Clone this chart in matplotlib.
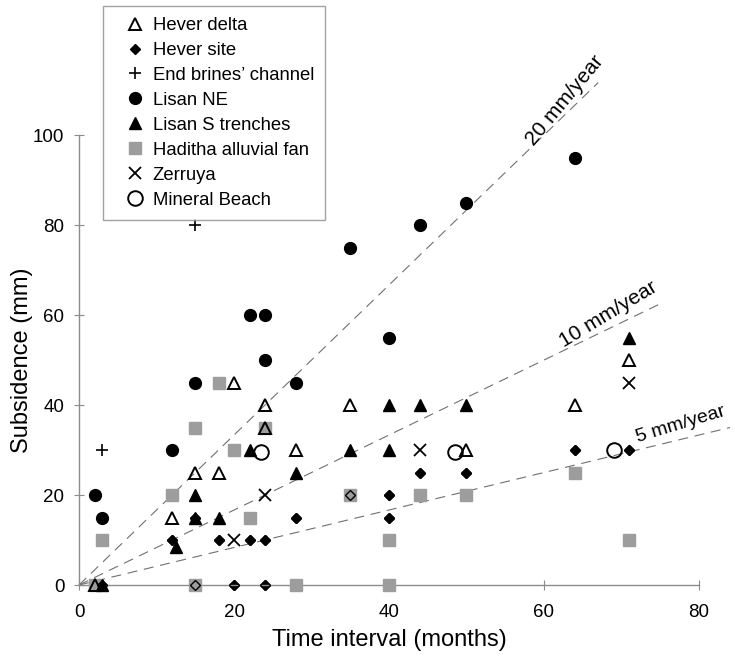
import matplotlib
matplotlib.use('Agg')
import matplotlib.pyplot as plt
import numpy as np

# Values (months, mm)
hever_delta_x = [2, 12, 15, 18, 20, 24, 24, 28, 35, 50, 64, 71]
hever_delta_y = [0, 15, 25, 25, 45, 40, 35, 30, 40, 30, 40, 50]

hever_site_x = [3, 15, 20, 24, 12, 18, 22, 24, 15, 28, 35, 40, 40, 44, 50, 64, 71]
hever_site_y = [0, 0, 0, 0, 10, 10, 10, 10, 15, 15, 20, 20, 15, 25, 25, 30, 30]

brines_x = [3, 15]
brines_y = [30, 80]

lisan_ne_x = [2, 3, 12, 15, 22, 24, 24, 28, 35, 40, 44, 50, 64]
lisan_ne_y = [20, 15, 30, 45, 60, 60, 50, 45, 75, 55, 80, 85, 95]

lisan_s_x = [3, 12.5, 15, 15, 18, 22, 28, 35, 40, 40, 44, 50, 71]
lisan_s_y = [0, 8.5, 15, 20, 15, 30, 25, 30, 30, 40, 40, 40, 55]

haditha_x = [2, 3, 12, 15, 15, 18, 20, 22, 24, 28, 35, 40, 40, 44, 50, 64, 71]
haditha_y = [0, 10, 20, 35, 0, 45, 30, 15, 35, 0, 20, 10, 0, 20, 20, 25, 10]

zerruya_x = [20, 24, 44, 71]
zerruya_y = [10, 20, 30, 45]

mineral_x = [23.5, 48.5, 69]
mineral_y = [29.5, 29.5, 30]

# Reference subsidence rates (mm/year) and how far each line is drawn (months)
rates = [20, 10, 5]
rate_ends = [67, 75, 84]
rate_labels = ['20 mm/year', '10 mm/year', '5 mm/year']
rate_label_pos = [(62.7, 107.8), (68.3, 60.2), (77.6, 35.6)]
rate_label_size = [15, 15, 14]

plt.rcParams['font.family'] = ['Liberation Sans', 'DejaVu Sans']

fig = plt.figure(figsize=(7.35, 6.6), dpi=100)
ax = fig.add_axes([0.1075, 0.1136, 0.8435, 0.6818])

grey = '#8c8c8c'

# Dashed rate lines from the origin
for rate, end in zip(rates, rate_ends):
    t = np.array([0, end])
    ax.plot(t, t * rate / 12.0, color='#707070', lw=0.8,
            linestyle=(0, (9, 6)), clip_on=False, zorder=1)

for label, (lx, ly), rate, fs in zip(rate_labels, rate_label_pos, rates,
                                     rate_label_size):
    # angle of the line on screen
    p0 = ax.transData.transform((0, 0))
    p1 = ax.transData.transform((60, 60 * rate / 12.0))
    ang = np.degrees(np.arctan2(p1[1] - p0[1], p1[0] - p0[0]))
    ax.text(lx, ly, label, rotation=ang, rotation_mode='anchor',
            ha='center', va='center', fontsize=fs, clip_on=False)

h_site, = ax.plot(hever_site_x, hever_site_y, 'D', color='black', ms=5,
                  ls='none', zorder=2, clip_on=False)
h_had, = ax.plot(haditha_x, haditha_y, 's', color='#9d9d9d', ms=8,
                 ls='none', zorder=3, clip_on=False)
# diamond outlines on top, so diamonds stay visible over grey squares
ax.plot(hever_site_x, hever_site_y, 'D', mfc='none', mec='black', ms=5,
        mew=1.0, ls='none', zorder=4, clip_on=False)
h_lisan_s, = ax.plot(lisan_s_x, lisan_s_y, '^', color='black', ms=8,
                     ls='none', zorder=4, clip_on=False)
h_delta, = ax.plot(hever_delta_x, hever_delta_y, '^', mfc='none',
                   mec='black', mew=1.4, ms=9, ls='none', zorder=5,
                   clip_on=False)
h_ne, = ax.plot(lisan_ne_x, lisan_ne_y, 'o', color='black', ms=8.5,
                ls='none', zorder=5, clip_on=False)
h_brines, = ax.plot(brines_x, brines_y, '+', color='black', ms=8, mew=1.2,
                    ls='none', zorder=5, clip_on=False)
h_zer, = ax.plot(zerruya_x, zerruya_y, 'x', color='black', ms=8, mew=1.3,
                 ls='none', zorder=5, clip_on=False)
h_min, = ax.plot(mineral_x, mineral_y, 'o', mfc='none', mec='black',
                 mew=1.4, ms=10.5, ls='none', zorder=5, clip_on=False)

ax.set_xlim(0, 80)
ax.set_ylim(0, 100)
ax.set_xticks([0, 20, 40, 60, 80])
ax.set_yticks([0, 20, 40, 60, 80, 100])

for side in ['top', 'right']:
    ax.spines[side].set_visible(False)
for side in ['left', 'bottom']:
    ax.spines[side].set_color(grey)
    ax.spines[side].set_linewidth(1.0)

ax.tick_params(axis='both', direction='inout', length=7, width=0.8,
               color=grey, labelsize=13.5)
ax.tick_params(axis='x', pad=10)
ax.tick_params(axis='y', pad=7)

ax.set_xlabel('Time interval (months)', fontsize=17, labelpad=6)
ax.set_ylabel('Subsidence (mm)', fontsize=17, labelpad=0)

handles = [h_delta, h_site, h_brines, h_ne, h_lisan_s, h_had, h_zer, h_min]
labels = ['Hever delta', 'Hever site', 'End brines\u2019 channel', 'Lisan NE',
          'Lisan S trenches', 'Haditha alluvial fan', 'Zerruya',
          'Mineral Beach']
leg = fig.legend(handles, labels, loc='upper left',
                 bbox_to_anchor=(0.1397, 0.991), fontsize=13.3,
                 frameon=True, fancybox=False, handlelength=2.35,
                 handletextpad=-0.25, labelspacing=0.43, borderpad=0.6,
                 borderaxespad=0.0)
leg.get_frame().set_edgecolor(grey)
leg.get_frame().set_linewidth(1.0)

fig.savefig('out.png', dpi=100)
